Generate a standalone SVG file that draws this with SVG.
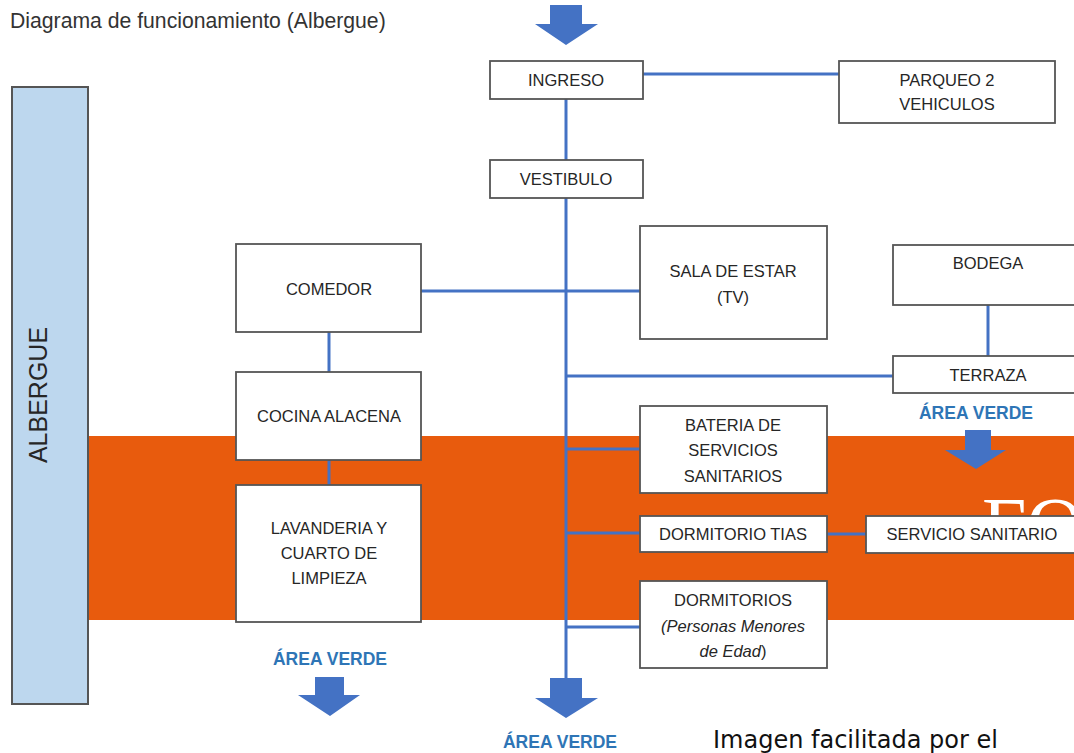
<svg xmlns="http://www.w3.org/2000/svg" width="1074" height="753" viewBox="0 0 1074 753">
<style>
.box{fill:#fff;stroke:#555;stroke-width:1.8}
.t{font-family:"Liberation Sans",Arial,sans-serif;font-size:16.5px;fill:#262626;text-anchor:middle}
.con{stroke:#4472C4;stroke-width:3;fill:none}
.arr{fill:#4472C4}
.av{font-family:"Liberation Sans",Arial,sans-serif;font-size:17.5px;font-weight:bold;fill:#2E75B6;text-anchor:middle}
</style>
<defs>
<clipPath id="foclip"><rect x="960" y="480" width="114" height="36"/></clipPath>
</defs>
<rect width="1074" height="753" fill="#fff"/>
<text x="10" y="28" font-family="Liberation Sans,Arial,sans-serif" font-size="21.2" fill="#333">Diagrama de funcionamiento (Albergue)</text>
<rect x="11" y="436" width="1063" height="184" fill="#E85B0D"/>
<text x="982" y="553" font-family="Liberation Serif,serif" font-size="80" fill="#fff" clip-path="url(#foclip)">FO</text>
<g id="albergue">
<rect x="12" y="87" width="76" height="617" fill="#BDD7EE" stroke="#555" stroke-width="2"/>
<text transform="translate(47,395) rotate(-90)" font-family="Liberation Sans,Arial,sans-serif" font-size="25" fill="#262626" text-anchor="middle">ALBERGUE</text>
</g>
<g id="connectors">
<line class="con" x1="566" y1="99" x2="566" y2="160"/>
<line class="con" x1="566" y1="198" x2="566" y2="679"/>
<line class="con" x1="643" y1="74" x2="839" y2="74"/>
<line class="con" x1="421" y1="291" x2="640" y2="291"/>
<line class="con" x1="329" y1="332" x2="329" y2="372"/>
<line class="con" x1="329" y1="460" x2="329" y2="485"/>
<line class="con" x1="566" y1="376" x2="893" y2="376"/>
<line class="con" x1="988" y1="305" x2="988" y2="356"/>
<line class="con" x1="566" y1="449" x2="640" y2="449"/>
<line class="con" x1="566" y1="533" x2="640" y2="533"/>
<line class="con" x1="827" y1="534" x2="866" y2="534"/>
<line class="con" x1="566" y1="627" x2="640" y2="627"/>
</g>
<g id="arrows">
<polygon class="arr" points="550,5 582,5 582,24 598,24 566,45 535,24 550,24"/>
<polygon class="arr" points="550,678 582,678 582,698 598,698 566,718 535,698 550,698"/>
<polygon class="arr" points="315,677 344,677 344,695 360,695 330,716 298,695 315,695"/>
<polygon class="arr" points="965,430 991,430 991,450 1006,450 976,469 945,450 965,450"/>
</g>
<g id="ingreso"><rect class="box" x="490" y="61" width="153" height="38"/><text class="t" x="566" y="86">INGRESO</text></g>
<g id="parqueo"><rect class="box" x="839" y="61" width="216" height="62"/><text class="t" x="947" y="86">PARQUEO 2</text><text class="t" x="947" y="110">VEHICULOS</text></g>
<g id="vestibulo"><rect class="box" x="490" y="160" width="153" height="38"/><text class="t" x="566" y="185">VESTIBULO</text></g>
<g id="comedor"><rect class="box" x="236" y="244" width="185" height="88"/><text class="t" x="329" y="295">COMEDOR</text></g>
<g id="sala"><rect class="box" x="640" y="226" width="187" height="113"/><text class="t" x="733" y="277">SALA DE ESTAR</text><text class="t" x="733" y="303">(TV)</text></g>
<g id="bodega"><rect class="box" x="893" y="245" width="190" height="60"/><text class="t" x="988" y="269">BODEGA</text></g>
<g id="terraza"><rect class="box" x="893" y="356" width="190" height="37"/><text class="t" x="988" y="381">TERRAZA</text></g>
<g id="cocina"><rect class="box" x="236" y="372" width="185" height="88"/><text class="t" x="329" y="422">COCINA ALACENA</text></g>
<g id="lavanderia"><rect class="box" x="236" y="485" width="185" height="137"/><text class="t" x="329" y="534">LAVANDERIA Y</text><text class="t" x="329" y="559">CUARTO DE</text><text class="t" x="329" y="584">LIMPIEZA</text></g>
<g id="bateria"><rect class="box" x="640" y="406" width="187" height="87"/><text class="t" x="733" y="431">BATERIA DE</text><text class="t" x="733" y="456">SERVICIOS</text><text class="t" x="733" y="482">SANITARIOS</text></g>
<g id="dormtias"><rect class="box" x="640" y="516" width="187" height="36"/><text class="t" x="733" y="540">DORMITORIO TIAS</text></g>
<g id="servicio"><rect class="box" x="866" y="516" width="217" height="37"/><text class="t" x="972" y="540">SERVICIO SANITARIO</text></g>
<g id="dormitorios"><rect class="box" x="640" y="581" width="187" height="87"/><text class="t" x="733" y="606">DORMITORIOS</text><text class="t" x="733" y="632" font-style="italic">(Personas Menores</text><text class="t" x="733" y="657"><tspan font-style="italic">de Edad</tspan>)</text></g>
<text class="av" x="330" y="665">ÁREA VERDE</text>
<text class="av" x="560" y="748">ÁREA VERDE</text>
<text class="av" x="976" y="419">ÁREA VERDE</text>
<text x="713" y="748" font-family="DejaVu Sans,Verdana,sans-serif" font-size="24" fill="#111">Imagen facilitada por el</text>
</svg>
